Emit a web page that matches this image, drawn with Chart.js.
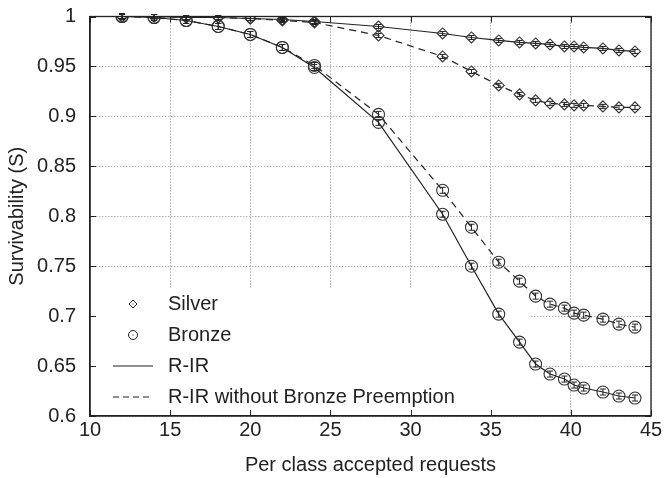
<!DOCTYPE html>
<html>
<head>
<meta charset="utf-8">
<script src="https://cdn.jsdelivr.net/npm/chart.js@4/dist/chart.umd.min.js"></script>
<style>
  body { margin: 0; background: #fff; }
  #wrap { width: 665px; height: 478px; }
</style>
</head>
<body>
<div id="wrap"><canvas id="js-canvas-surv" width="665" height="478"></canvas></div>
<script>
// per class accepted requests
const requests = [12, 14, 16, 18, 20, 22, 24, 28, 32, 33.8, 35.5, 36.8, 37.8, 38.7, 39.6, 40.2, 40.8, 42, 43, 44];

const silverRIR = [1.0, 1.0, 0.999, 0.999, 0.998, 0.997, 0.995, 0.990, 0.983, 0.979, 0.976, 0.974, 0.973, 0.972, 0.970, 0.970, 0.969, 0.968, 0.966, 0.965];
const silverNoPreempt = [1.0, 1.0, 0.999, 0.999, 0.998, 0.996, 0.994, 0.981, 0.960, 0.945, 0.931, 0.922, 0.916, 0.913, 0.912, 0.911, 0.911, 0.910, 0.909, 0.909];
const bronzeRIR = [1.0, 0.999, 0.996, 0.990, 0.982, 0.969, 0.949, 0.894, 0.802, 0.750, 0.702, 0.674, 0.652, 0.642, 0.637, 0.631, 0.628, 0.624, 0.620, 0.618];
const bronzeNoPreempt = [1.0, 0.999, 0.996, 0.990, 0.982, 0.969, 0.951, 0.902, 0.826, 0.789, 0.754, 0.735, 0.720, 0.712, 0.708, 0.703, 0.701, 0.697, 0.692, 0.689];

// half width of the confidence interval drawn on each point
const errSilver = 0.002;
const errBronze = 0.003;

const xTicks = [10, 15, 20, 25, 30, 35, 40, 45];
const yTicks = [0.6, 0.65, 0.7, 0.75, 0.8, 0.85, 0.9, 0.95, 1];

const ink = '#222';
const font = 'Liberation Sans, Arial, Helvetica, sans-serif';

function pts(ys) {
  return requests.map((x, i) => ({ x: x, y: ys[i] }));
}

function series(label, ys, dashed, silver) {
  return {
    label: label,
    data: pts(ys),
    err: silver ? errSilver : errBronze,
    borderColor: ink,
    borderWidth: 1.2,
    borderDash: dashed ? [7, 5] : [],
    fill: false,
    tension: 0,
    pointStyle: silver ? 'rectRot' : 'circle',
    pointRadius: silver ? 5.5 : 6,
    pointBorderColor: '#333',
    pointBorderWidth: 1.1,
    pointBackgroundColor: 'rgba(0,0,0,0)'
  };
}

// white key box, frame, inward ticks and error bars
const decorations = {
  id: 'decorations',
  beforeDatasetsDraw(chart) {
    const { ctx, chartArea: a } = chart;
    ctx.save();
    ctx.fillStyle = '#fff';
    ctx.fillRect(a.left + 1, 288, 530 - a.left - 1, a.bottom - 288 - 1);

    ctx.strokeStyle = ink;
    ctx.fillStyle = ink;
    ctx.lineWidth = 1;
    ctx.font = '20px ' + font;
    ctx.textBaseline = 'middle';
    const mx = 133, tx = 168;
    const rows = [304, 335, 366, 397];

    // diamond
    ctx.beginPath();
    ctx.moveTo(mx, rows[0] - 4);
    ctx.lineTo(mx + 4, rows[0]);
    ctx.lineTo(mx, rows[0] + 4);
    ctx.lineTo(mx - 4, rows[0]);
    ctx.closePath();
    ctx.stroke();
    ctx.fillRect(mx - 0.5, rows[0] - 0.5, 1, 1);
    // circle
    ctx.beginPath();
    ctx.arc(mx, rows[1], 4.5, 0, Math.PI * 2);
    ctx.stroke();
    ctx.fillRect(mx - 0.5, rows[1] - 0.5, 1, 1);
    // solid
    ctx.lineWidth = 1.2;
    ctx.beginPath();
    ctx.moveTo(113, rows[2]);
    ctx.lineTo(153, rows[2]);
    ctx.stroke();
    // dashed
    ctx.setLineDash([6, 4]);
    ctx.beginPath();
    ctx.moveTo(113, rows[3]);
    ctx.lineTo(153, rows[3]);
    ctx.stroke();
    ctx.setLineDash([]);

    ctx.fillText('Silver', tx, rows[0]);
    ctx.fillText('Bronze', tx, rows[1]);
    ctx.fillText('R-IR', tx, rows[2]);
    ctx.fillText('R-IR without Bronze Preemption', tx, rows[3]);
    ctx.restore();
  },
  afterDatasetsDraw(chart) {
    const { ctx, chartArea: a, scales } = chart;
    const x = scales.x, y = scales.y;
    ctx.save();
    ctx.strokeStyle = ink;
    ctx.lineWidth = 1;

    chart.data.datasets.forEach(ds => {
      ds.data.forEach(p => {
        const px = x.getPixelForValue(p.x);
        const y1 = y.getPixelForValue(p.y + ds.err);
        const y2 = y.getPixelForValue(p.y - ds.err);
        ctx.beginPath();
        ctx.moveTo(px, y1); ctx.lineTo(px, y2);
        ctx.moveTo(px - 3, y1); ctx.lineTo(px + 3, y1);
        ctx.moveTo(px - 3, y2); ctx.lineTo(px + 3, y2);
        ctx.stroke();
      });
    });

    // frame
    ctx.lineWidth = 1.3;
    ctx.strokeRect(a.left, a.top, a.right - a.left, a.bottom - a.top);

    // ticks pointing inwards on all sides
    ctx.lineWidth = 1;
    ctx.beginPath();
    xTicks.forEach(v => {
      const px = Math.round(x.getPixelForValue(v)) + 0.5;
      ctx.moveTo(px, a.bottom); ctx.lineTo(px, a.bottom - 6);
      ctx.moveTo(px, a.top); ctx.lineTo(px, a.top + 6);
    });
    yTicks.forEach(v => {
      const py = Math.round(y.getPixelForValue(v)) + 0.5;
      ctx.moveTo(a.left, py); ctx.lineTo(a.left + 6, py);
      ctx.moveTo(a.right, py); ctx.lineTo(a.right - 6, py);
    });
    ctx.stroke();
    ctx.restore();
  }
};

const ctx = document.getElementById('js-canvas-surv');
const survChart = new Chart(ctx, {
  type: 'line',
  data: {
    datasets: [
      series('Silver R-IR', silverRIR, false, true),
      series('Silver R-IR without Bronze Preemption', silverNoPreempt, true, true),
      series('Bronze R-IR', bronzeRIR, false, false),
      series('Bronze R-IR without Bronze Preemption', bronzeNoPreempt, true, false)
    ]
  },
  plugins: [decorations],
  options: {
    responsive: false,
    animation: false,
    layout: { padding: { top: 16.5, right: 14, left: 0, bottom: 0 } },
    plugins: {
      legend: { display: false },
      tooltip: { enabled: false }
    },
    scales: {
      x: {
        type: 'linear',
        min: 10,
        max: 45,
        afterFit(scale) {
          scale.height = 62;
          scale.paddingLeft = 0;
          scale.paddingRight = 0;
        },
        afterBuildTicks(scale) { scale.ticks = xTicks.map(v => ({ value: v })); },
        ticks: {
          color: ink,
          padding: 2,
          font: { family: font, size: 20 },
          maxRotation: 0
        },
        grid: { color: '#8a8a8a', lineWidth: 1, drawTicks: false },
        border: { color: ink, width: 1.3, dash: [1, 2] },
        title: {
          display: true,
          text: 'Per class accepted requests',
          color: ink,
          font: { family: font, size: 20 },
          padding: { top: 0, bottom: 1 }
        }
      },
      y: {
        type: 'linear',
        min: 0.6,
        max: 1,
        afterFit(scale) {
          scale.width = 90;
          scale.paddingTop = 0;
          scale.paddingBottom = 0;
        },
        afterBuildTicks(scale) { scale.ticks = yTicks.map(v => ({ value: v })); },
        ticks: {
          color: ink,
          padding: 14,
          font: { family: font, size: 20 },
          callback: v => String(parseFloat(v.toFixed(2)))
        },
        grid: { color: '#8a8a8a', lineWidth: 1, drawTicks: false },
        border: { color: ink, width: 1.3, dash: [1, 2] },
        title: {
          display: true,
          text: 'Survivability (S)',
          color: ink,
          font: { family: font, size: 20 },
          padding: { top: 5, bottom: 0 }
        }
      }
    }
  }
});
</script>
</body>
</html>
